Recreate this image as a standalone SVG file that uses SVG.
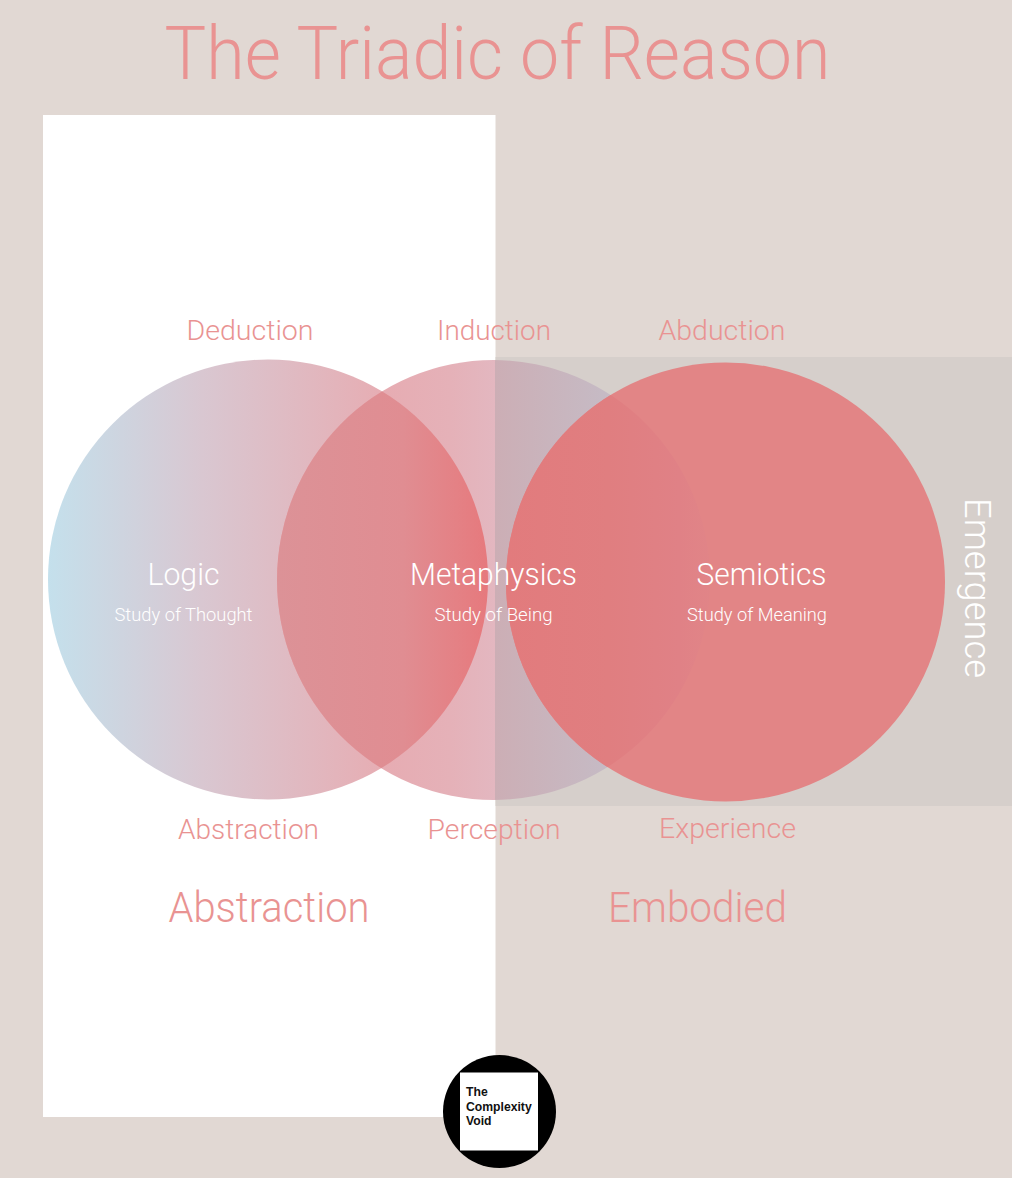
<svg xmlns="http://www.w3.org/2000/svg" width="1012" height="1178" viewBox="0 0 1012 1178">
<style>
text{font-family:"Roboto","Liberation Sans",Arial,sans-serif;font-weight:300}
.p{fill:#e99392;text-anchor:middle}
.w{fill:#ffffff;text-anchor:middle}
.l{font-size:28px}
.h{font-size:42px}
.m{font-size:32px}
.s{font-size:19px}
.b{font-family:"Liberation Sans",Arial,sans-serif;font-weight:700;font-size:12.200px;fill:#111111}
</style>
<defs>
<linearGradient id="g1" gradientUnits="userSpaceOnUse" x1="48" y1="0" x2="488" y2="0">
<stop offset="0" stop-color="#c4e0ec"/><stop offset="0.35" stop-color="#d9c7d1"/><stop offset="0.75" stop-color="#e6aeb4"/><stop offset="1" stop-color="#e9a4a9"/>
</linearGradient>
<linearGradient id="g2" gradientUnits="userSpaceOnUse" x1="277" y1="0" x2="710" y2="0">
<stop offset="0" stop-color="#e9a4a9"/><stop offset="0.4" stop-color="#e5b1b8"/><stop offset="0.503" stop-color="#e3b7c0"/><stop offset="0.503" stop-color="#ccaeb5"/><stop offset="0.75" stop-color="#c6bac4"/><stop offset="1" stop-color="#bfbccb"/>
</linearGradient>
<linearGradient id="g12" gradientUnits="userSpaceOnUse" x1="277" y1="0" x2="488" y2="0">
<stop offset="0" stop-color="#dc9297"/><stop offset="0.6" stop-color="#e08d92"/><stop offset="0.85" stop-color="#e48185"/><stop offset="1" stop-color="#e6797d"/>
</linearGradient>
<linearGradient id="g23" gradientUnits="userSpaceOnUse" x1="506" y1="0" x2="710" y2="0">
<stop offset="0" stop-color="#e27b7d"/><stop offset="0.5" stop-color="#e07e80"/><stop offset="0.85" stop-color="#e08186"/><stop offset="1" stop-color="#e08488" stop-opacity=".6"/>
</linearGradient>
<clipPath id="c1"><circle cx="268" cy="579.500" r="220"/></clipPath>
<clipPath id="c3"><circle cx="725.500" cy="582" r="219.500"/></clipPath>
</defs>
<rect id="background" width="1012" height="1178" fill="#e1d8d3"/>
<rect id="abstraction-panel" x="43" y="115" width="452.500" height="1002" fill="#ffffff"/>
<g id="title"><text class="p" x="497.500" y="79" font-size="74" textLength="666" lengthAdjust="spacingAndGlyphs">The Triadic of Reason</text></g>
<rect id="emergence-band" x="495.500" y="357" width="516.500" height="449" fill="#d6cfcb"/>
<g id="logic"><circle cx="268" cy="579.500" r="220" fill="url(#g1)"/></g>
<g id="metaphysics"><ellipse cx="493.500" cy="580" rx="216.500" ry="220" fill="url(#g2)"/>
<ellipse cx="493.500" cy="580" rx="216.500" ry="220" fill="url(#g12)" clip-path="url(#c1)"/></g>
<g id="semiotics"><circle cx="725.500" cy="582" r="219.500" fill="#e28586"/>
<ellipse cx="493.500" cy="580" rx="216.500" ry="220" fill="url(#g23)" clip-path="url(#c3)"/></g>
<g id="labels">
<text class="p l" x="250" y="340" textLength="127" lengthAdjust="spacingAndGlyphs">Deduction</text>
<text class="p l" x="494" y="340" textLength="114" lengthAdjust="spacingAndGlyphs">Induction</text>
<text class="p l" x="722" y="340" textLength="127" lengthAdjust="spacingAndGlyphs">Abduction</text>
<text class="p l" x="248.500" y="838.500" textLength="141" lengthAdjust="spacingAndGlyphs">Abstraction</text>
<text class="p l" x="494" y="838.500" textLength="133" lengthAdjust="spacingAndGlyphs">Perception</text>
<text class="p l" x="727.500" y="838" textLength="137" lengthAdjust="spacingAndGlyphs">Experience</text>
<text class="p h" x="269" y="922" textLength="201" lengthAdjust="spacingAndGlyphs">Abstraction</text>
<text class="p h" x="697.500" y="922" textLength="179" lengthAdjust="spacingAndGlyphs">Embodied</text>
<text class="w m" x="183.500" y="585" textLength="72" lengthAdjust="spacingAndGlyphs">Logic</text>
<text class="w s" x="183.500" y="621" textLength="138" lengthAdjust="spacingAndGlyphs">Study of Thought</text>
<text class="w m" x="493.500" y="585" textLength="167" lengthAdjust="spacingAndGlyphs">Metaphysics</text>
<text class="w s" x="493.500" y="621" textLength="118" lengthAdjust="spacingAndGlyphs">Study of Being</text>
<text class="w m" x="761.500" y="585" textLength="130" lengthAdjust="spacingAndGlyphs">Semiotics</text>
<text class="w s" x="757" y="621" textLength="140" lengthAdjust="spacingAndGlyphs">Study of Meaning</text>
<text class="w" font-size="37" transform="translate(965,588) rotate(90)" x="0" y="0" textLength="180" lengthAdjust="spacingAndGlyphs">Emergence</text>
</g>
<g id="logo">
<circle cx="499.500" cy="1111.500" r="56.500" fill="#000000"/>
<rect x="460" y="1072.500" width="78" height="78" fill="#ffffff"/>
<text class="b" x="466" y="1096">The</text>
<text class="b" x="466" y="1111">Complexity</text>
<text class="b" x="466" y="1125">Void</text>
</g>
<g id="connectors"/>
</svg>
